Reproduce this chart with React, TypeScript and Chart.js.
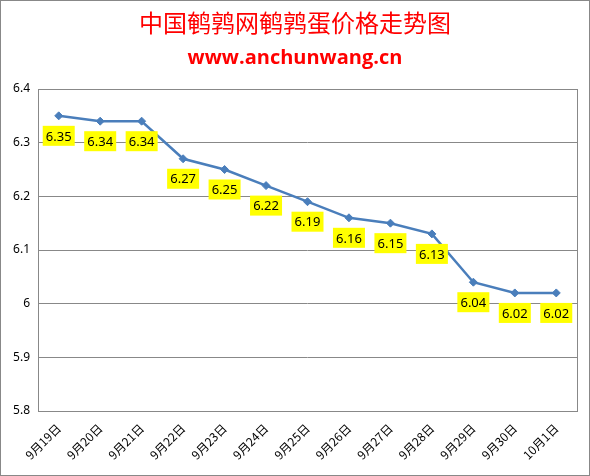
import { useEffect, useRef } from 'react'
import { Chart, registerables, type ChartConfiguration, type Plugin } from 'chart.js'

Chart.register(...registerables)

const TITLE = '中国鹌鹑网鹌鹑蛋价格走势图'
const SUBTITLE = 'www.anchunwang.cn'

const dates = ['9月19日', '9月20日', '9月21日', '9月22日', '9月23日', '9月24日', '9月25日', '9月26日', '9月27日', '9月28日', '9月29日', '9月30日', '10月1日']
const prices = [6.35, 6.34, 6.34, 6.27, 6.25, 6.22, 6.19, 6.16, 6.15, 6.13, 6.04, 6.02, 6.02]

const W = 590
const H = 476
const PLOT = { left: 38, top: 89, right: 577, bottom: 411 }

// titles, plot frame and the yellow value boxes
const decor: Plugin<'line'> = {
  id: 'decor',
  beforeDatasetsDraw(chart) {
    const { ctx, chartArea: a } = chart
    ctx.save()
    ctx.strokeStyle = '#888888'
    ctx.lineWidth = 1
    ctx.strokeRect(Math.round(a.left) + 0.5, Math.round(a.top) + 0.5, Math.round(a.right - a.left), Math.round(a.bottom - a.top))
    ctx.restore()
  },
  afterDatasetsDraw(chart) {
    const { ctx } = chart
    ctx.save()
    ctx.textAlign = 'center'
    ctx.textBaseline = 'middle'
    ctx.fillStyle = '#ff0000'
    ctx.font = '24px "Noto Sans CJK SC"'
    ctx.fillText(TITLE, W / 2, 23)
    ctx.font = 'bold 20px "Open Sans", "Noto Sans"'
    ctx.fillText(SUBTITLE, W / 2, 58)

    const meta = chart.getDatasetMeta(0)
    ctx.font = '13px "Noto Sans", "Liberation Sans"'
    meta.data.forEach((pt, i) => {
      const txt = prices[i].toFixed(2)
      const bw = 32
      const bh = 20
      const cx = pt.x
      const cy = pt.y + 20
      ctx.fillStyle = '#ffff00'
      ctx.fillRect(cx - bw / 2, cy - bh / 2, bw, bh)
      ctx.fillStyle = '#000000'
      ctx.fillText(txt, cx, cy + 1)
    })
    ctx.restore()
  },
}

export default function App() {
  const canvasRef = useRef<HTMLCanvasElement>(null)

  useEffect(() => {
    if (!canvasRef.current) return
    const config: ChartConfiguration<'line'> = {
      type: 'line',
      data: {
        labels: dates,
        datasets: [{
          data: prices,
          borderColor: '#4a7ebb',
          backgroundColor: '#4a7ebb',
          borderWidth: 2.5,
          tension: 0,
          pointStyle: 'rectRot',
          pointRadius: 4,
          pointBackgroundColor: '#4a7ebb',
          pointBorderColor: '#4a7ebb',
          pointBorderWidth: 1,
        }],
      },
      options: {
        responsive: false,
        animation: false,
        layout: { padding: { top: PLOT.top, right: W - PLOT.right, left: 0, bottom: 0 } },
        scales: {
          x: {
            offset: true,
            grid: { display: false },
            border: { display: false },
            ticks: {
              color: '#000000',
              font: { size: 12, family: '"Noto Sans CJK SC"' },
              minRotation: 45,
              maxRotation: 45,
              padding: 2,
            },
            afterFit: (s) => { s.height = H - PLOT.bottom },
          },
          y: {
            min: 5.8,
            max: 6.4,
            grid: { color: '#888888', drawTicks: false },
            border: { display: false },
            ticks: {
              stepSize: 0.1,
              color: '#000000',
              font: { size: 12, family: '"Noto Sans", "Liberation Sans"' },
              padding: 8,
              callback: (v) => String(Math.round(Number(v) * 10) / 10),
            },
            afterFit: (s) => { s.width = PLOT.left },
          },
        },
        plugins: {
          legend: { display: false },
          tooltip: { enabled: false },
        },
      },
      plugins: [decor],
    }
    const chart = new Chart(canvasRef.current, config)
    return () => { chart.destroy() }
  }, [])

  return (
    <div style={{ position: 'absolute', left: 0, top: 0, width: W, height: H, background: '#ffffff' }}>
      <canvas ref={canvasRef} width={W} height={H} style={{ display: 'block', width: W, height: H }} />
      <div style={{ position: 'absolute', inset: 0, border: '1px solid #888888', pointerEvents: 'none' }} />
    </div>
  )
}
